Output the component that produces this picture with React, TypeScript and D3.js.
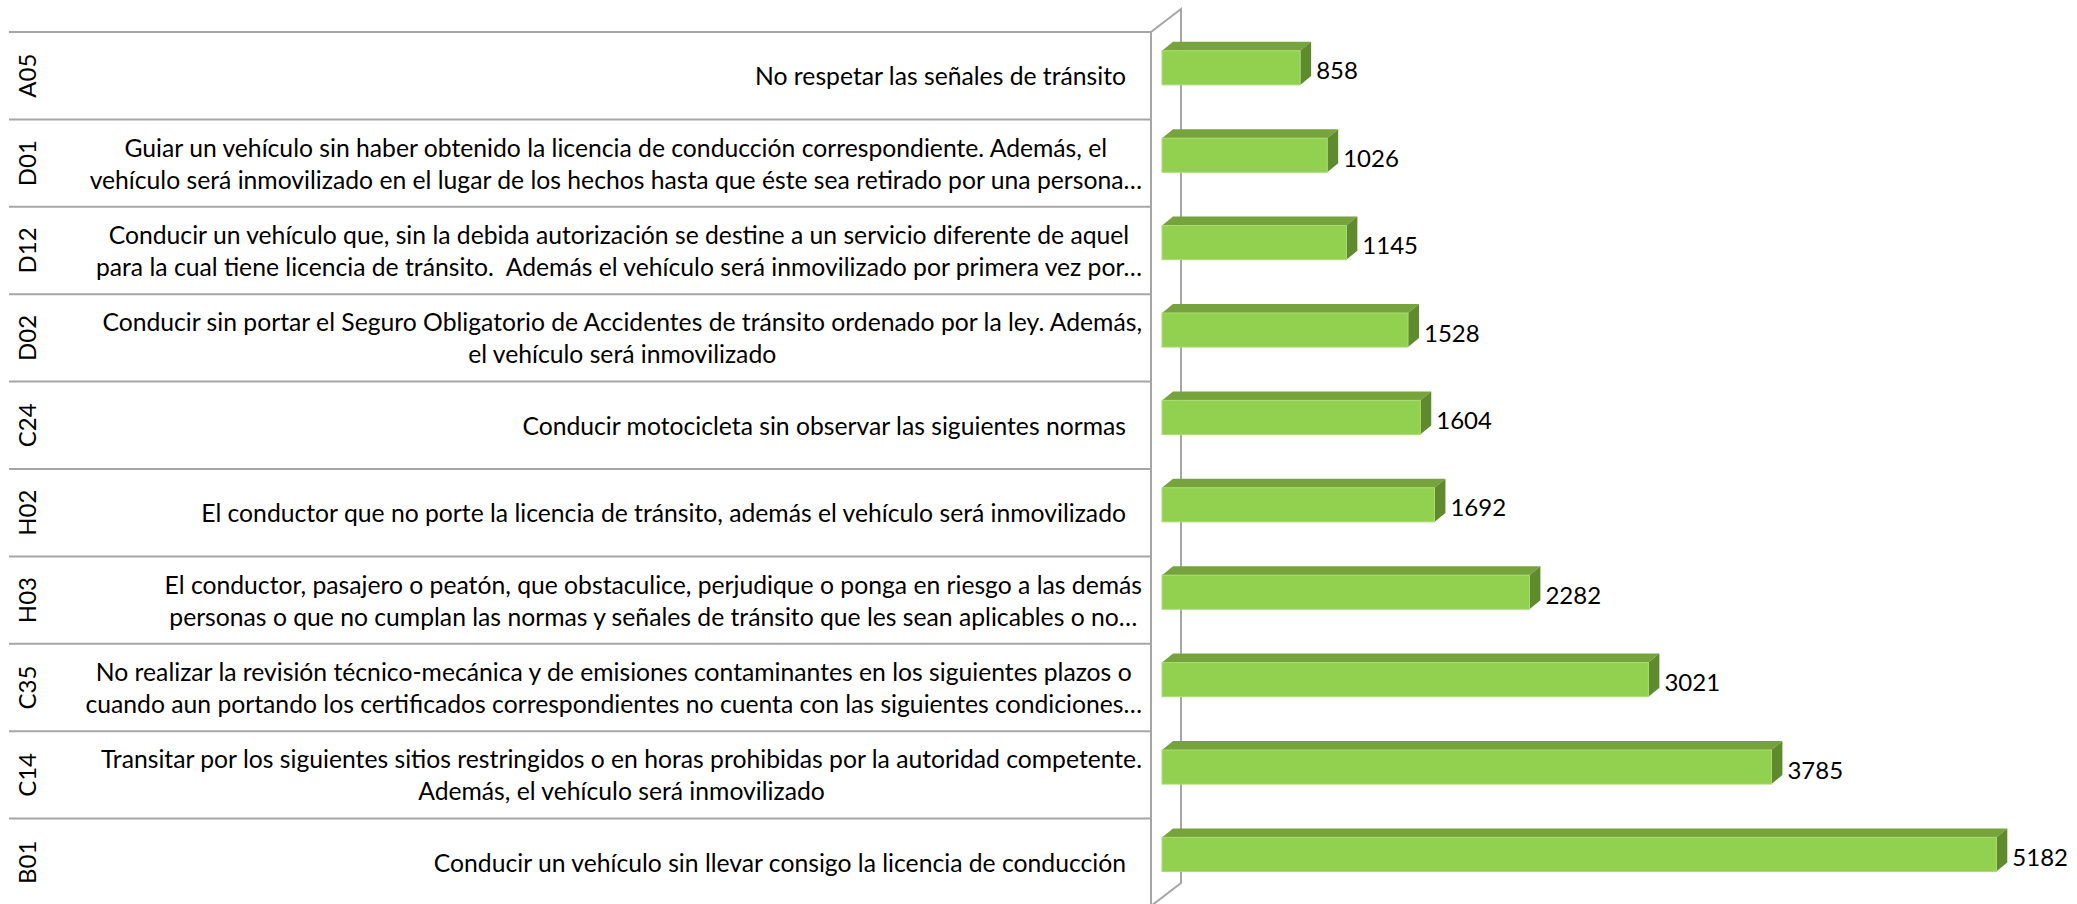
import React, { useEffect, useRef } from "react";
import * as d3 from "d3";

const codes = ["A05", "D01", "D12", "D02", "C24", "H02", "H03", "C35", "C14", "B01"];
const values = [858, 1026, 1145, 1528, 1604, 1692, 2282, 3021, 3785, 5182];
const descriptions: string[][] = [
  ["No respetar las señales de tránsito"],
  [
    "Guiar un vehículo sin haber obtenido la licencia de conducción correspondiente. Además, el",
    "vehículo será inmovilizado en el lugar de los hechos hasta que éste sea retirado por una persona…",
  ],
  [
    "Conducir un vehículo que, sin la debida autorización se destine a un servicio diferente de aquel",
    "para la cual tiene licencia de tránsito.  Además el vehículo será inmovilizado por primera vez por…",
  ],
  [
    "Conducir sin portar el Seguro Obligatorio de Accidentes de tránsito ordenado por la ley. Además,",
    "el vehículo será inmovilizado",
  ],
  ["Conducir motocicleta sin observar las siguientes normas"],
  ["El conductor que no porte la licencia de tránsito, además el vehículo será inmovilizado"],
  [
    "El conductor, pasajero o peatón, que obstaculice, perjudique o ponga en riesgo a las demás",
    "personas o que no cumplan las normas y señales de tránsito que les sean aplicables o no…",
  ],
  [
    "No realizar la revisión técnico-mecánica y de emisiones contaminantes en los siguientes plazos o",
    "cuando aun portando los certificados correspondientes no cuenta con las siguientes condiciones…",
  ],
  [
    "Transitar por los siguientes sitios restringidos o en horas prohibidas por la autoridad competente.",
    "Además, el vehículo será inmovilizado",
  ],
  ["Conducir un vehículo sin llevar consigo la licencia de conducción"],
];

const App = () => {
  const svgRef = useRef<SVGSVGElement | null>(null);

  useEffect(() => {
    if (!svgRef.current) return;
    document.body.style.margin = "0";

    const svg = d3.select(svgRef.current);
    svg.selectAll("*").remove();

    const width = 2077;
    const height = 904;
    const fontFamily = "'Liberation Sans Narrow', Lato, 'Open Sans', sans-serif";

    svg.attr("width", width).attr("height", height);

    // fit font size so the longest description line is ~1045px wide (Calibri look)
    const probe = svg
      .append("text")
      .attr("font-family", fontFamily)
      .attr("font-size", 24)
      .text(descriptions[3][0]);
    const probeW = (probe.node() as SVGTextElement).getComputedTextLength();
    probe.remove();
    const fontSize = Math.min(26, Math.max(18, (24 * 1040) / probeW));

    const y = d3.scaleBand<string>().domain(codes).range([32, 906]);
    const x = d3.scaleLinear().domain([0, 6000]).range([1162, 2128]);
    const bw = y.bandwidth();

    const lineColor = "#A6A6A6";
    const wallFront = 1151;
    const wallBack = 1181;
    const dx = 11;
    const dy = 9;

    // row separator lines in the label area
    svg
      .append("g")
      .selectAll("line")
      .data(codes)
      .enter()
      .append("line")
      .attr("x1", 9)
      .attr("x2", wallFront)
      .attr("y1", (d) => y(d)!)
      .attr("y2", (d) => y(d)!)
      .attr("stroke", lineColor)
      .attr("stroke-width", 2);

    // 3D wall / axis
    const wall = svg.append("g").attr("fill", "none").attr("stroke", lineColor).attr("stroke-width", 2);
    wall
      .append("path")
      .attr(
        "d",
        `M${wallFront},${height + 2} L${wallFront},32 L${wallBack},9 L${wallBack},883 L${wallFront},${height + 2}`
      );

    // code labels (rotated)
    svg
      .append("g")
      .selectAll("text")
      .data(codes)
      .enter()
      .append("text")
      .attr("transform", (d) => `translate(26,${y(d)! + bw / 2}) rotate(-90)`)
      .attr("text-anchor", "middle")
      .attr("dominant-baseline", "central")
      .attr("font-family", fontFamily)
      .attr("font-size", 24)
      .attr("fill", "#000")
      .text((d) => d);

    // description labels
    const lineGap = 32;
    const descG = svg.append("g");
    codes.forEach((c, i) => {
      const lines = descriptions[i];
      const cy = y(c)! + bw / 2;
      const g = descG.append("g");
      const texts = lines.map((ln, j) =>
        g
          .append("text")
          .attr("y", cy + (j - (lines.length - 1) / 2) * lineGap)
          .attr("dominant-baseline", "central")
          .attr("font-family", fontFamily)
          .attr("font-size", fontSize)
          .attr("fill", "#000")
          .style("white-space", "pre")
          .text(ln)
      );
      if (lines.length === 1) {
        texts[0].attr("x", 1126).attr("text-anchor", "end");
      } else {
        const maxW = d3.max(texts, (t) => (t.node() as SVGTextElement).getComputedTextLength()) || 0;
        const center = 1142 - maxW / 2;
        texts.forEach((t) => t.attr("x", center).attr("text-anchor", "middle"));
      }
    });

    // 3D bars
    const bars = svg
      .append("g")
      .selectAll("g")
      .data(codes)
      .enter()
      .append("g");

    const top = (d: string) => y(d)! + bw * 0.215;
    const bh = bw * 0.39;
    const x0 = x(0);
    const x1 = (i: number) => x(values[i]);

    bars
      .append("path")
      .attr("fill", "#77A33C")
      .attr("d", (d, i) => {
        const t = top(d);
        return `M${x0},${t} L${x0 + dx},${t - dy} L${x1(i) + dx},${t - dy} L${x1(i)},${t} Z`;
      });

    bars
      .append("path")
      .attr("fill", "#5F8B2E")
      .attr("d", (d, i) => {
        const t = top(d);
        const b = t + bh;
        return `M${x1(i)},${t} L${x1(i) + dx},${t - dy} L${x1(i) + dx},${b - dy} L${x1(i)},${b} Z`;
      });

    bars
      .append("rect")
      .attr("x", x0)
      .attr("y", (d) => top(d))
      .attr("width", (d, i) => x1(i) - x0)
      .attr("height", bh)
      .attr("fill", "#92D050")
      .attr("stroke", "#A9DC74")
      .attr("stroke-width", 1);

    // value labels
    bars
      .append("text")
      .attr("x", (d, i) => x1(i) + dx + 5)
      .attr("y", (d) => top(d) + bh / 2 + 2)
      .attr("dominant-baseline", "central")
      .attr("font-family", fontFamily)
      .attr("font-size", 24)
      .attr("fill", "#000")
      .text((d, i) => values[i]);
  }, []);

  return (
    <div>
      <svg ref={svgRef} style={{ display: "block", background: "#fff" }}></svg>
    </div>
  );
};

export default App;
